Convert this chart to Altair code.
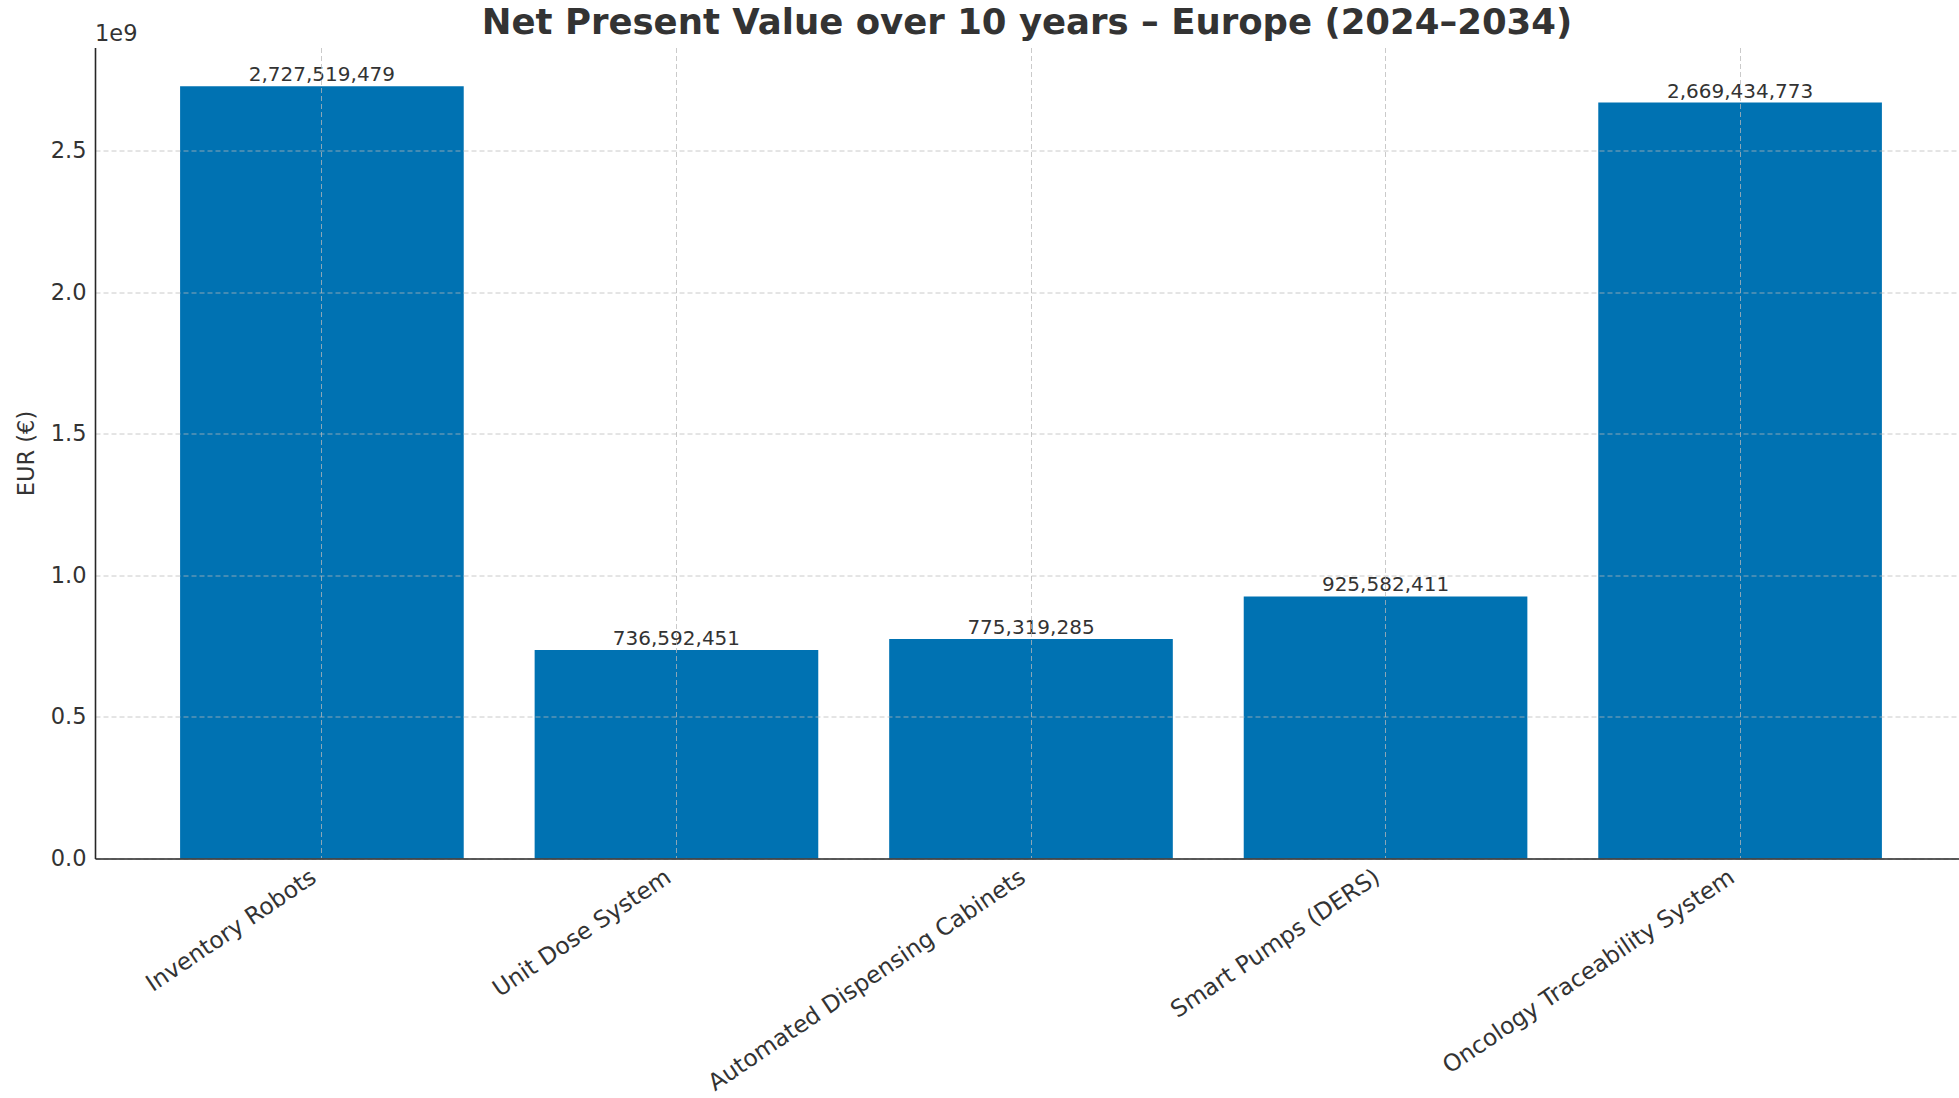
import altair as alt
import pandas as pd

categories = [
    "Inventory Robots",
    "Unit Dose System",
    "Automated Dispensing Cabinets",
    "Smart Pumps (DERS)",
    "Oncology Traceability System",
]
npv_values = [2727519479, 736592451, 775319285, 925582411, 2669434773]
y_ticks = [0, 0.5e9, 1.0e9, 1.5e9, 2.0e9, 2.5e9]
y_max = 2.864e9
offset_label = ["1e9"]

df = pd.DataFrame({"system": categories, "npv": npv_values})

FONT = "DejaVu Sans"
TEXT = "#333333"
GRID = "#b8b8b8"

x_enc = alt.X(
    "system:N",
    sort=categories,
    title=None,
    scale=alt.Scale(range=[0, 1872], paddingInner=0.2, paddingOuter=0.24),
    axis=alt.Axis(
        labelAngle=326,
        labelAlign="right",
        labelBaseline="top",
        labelFontSize=23.4,
        labelFont=FONT,
        labelColor=TEXT,
        labelPadding=7,
        labelOffset=-14,
        labelLimit=0,
        labelOverlap=False,
        tickSize=0,
        domainColor="#262626",
        domainWidth=1.6,
        grid=True,
        gridColor=GRID,
        gridOpacity=0.75,
        gridDash=[5, 3],
        gridWidth=1,
        bandPosition=0.5,
        zindex=1,
    ),
)

y_enc = alt.Y(
    "npv:Q",
    scale=alt.Scale(domain=[0, y_max], nice=False, zero=True),
    axis=alt.Axis(
        values=y_ticks,
        labelExpr="format(datum.value / 1e9, '.1f')",
        title="EUR (€)",
        titleFont=FONT,
        titleFontSize=22.5,
        titleFontWeight="normal",
        titleColor=TEXT,
        titlePadding=12,
        labelFontSize=22.5,
        labelFont=FONT,
        labelColor=TEXT,
        labelPadding=9,
        tickSize=0,
        domainColor="#262626",
        domainWidth=1.6,
        grid=True,
        gridColor=GRID,
        gridOpacity=0.75,
        gridDash=[5, 3],
        gridWidth=1,
        zindex=1,
    ),
)

base = alt.Chart(df)

bars = base.mark_bar(color="#0072B2").encode(x=x_enc, y=y_enc)

labels = base.mark_text(
    baseline="bottom", dy=-1, fontSize=20, font=FONT, color=TEXT
).encode(x=x_enc, y=y_enc, text=alt.Text("npv:Q", format=",d"))

offset_text = alt.Chart(pd.DataFrame({"label": offset_label})).mark_text(
    align="left", baseline="alphabetic", fontSize=22.5, font=FONT, color=TEXT
).encode(x=alt.value(0), y=alt.value(-7), text="label:N")

chart = (
    alt.layer(bars, labels, offset_text)
    .properties(
        width=1864,
        height=811,
        autosize=alt.AutoSizeParams(type="none"),
        padding={"left": 95, "top": 47.5, "right": 0, "bottom": 239.5},
        title=alt.Title(
            "Net Present Value over 10 years – Europe (2024–2034)",
            fontSize=35.5,
            font=FONT,
            fontWeight="bold",
            color=TEXT,
            anchor="middle",
            offset=12,
            dy=31,
        ),
        background="white",
    )
    .configure_view(stroke=None)
)

chart.save("out.html", embed_options={"renderer": "svg", "actions": False})
